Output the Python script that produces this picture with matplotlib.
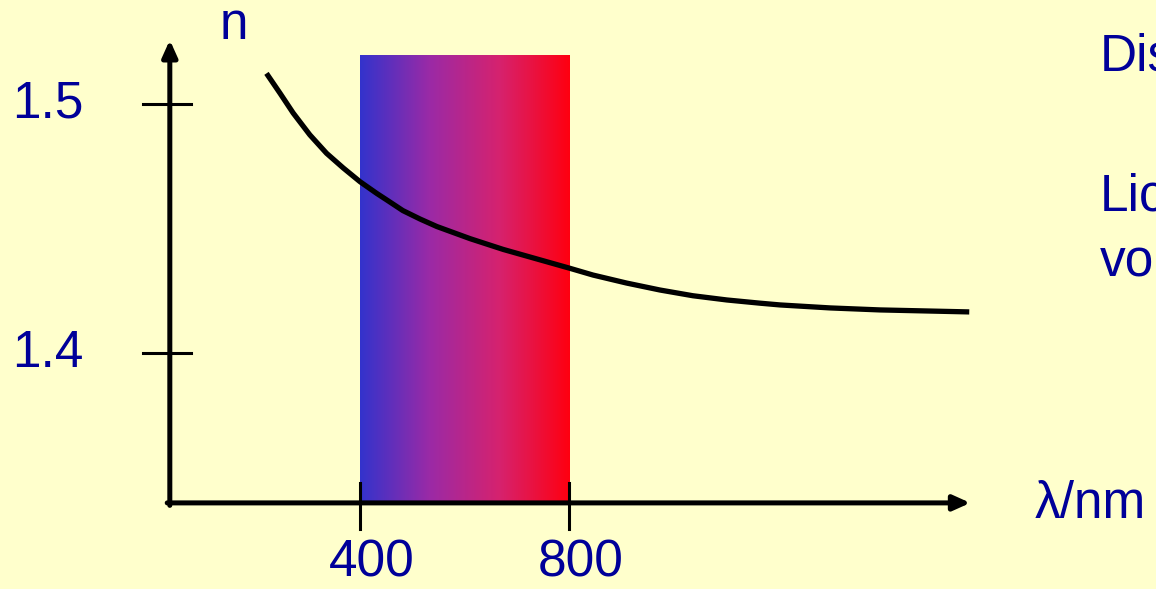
import numpy as np
import matplotlib.pyplot as plt
from matplotlib.colors import LinearSegmentedColormap

# ── Data ──────────────────────────────────────────────────────────────────────
wavelength_nm = [221, 247, 272, 304, 336, 368, 400, 432, 451, 482, 515, 547, 611, 674,
                 738, 802, 846, 910, 974, 1037, 1102, 1166, 1204, 1300, 1395, 1566]
refr_index = [1.5123, 1.5043, 1.4964, 1.4876, 1.4802, 1.4743, 1.4688, 1.4641, 1.4615,
              1.4572, 1.4538, 1.4508, 1.4459, 1.4416, 1.4378, 1.4340, 1.4313, 1.4281,
              1.4253, 1.4230, 1.4213, 1.4200, 1.4193, 1.4181, 1.4173, 1.4165]
x_ticks = [400, 800]
y_ticks = [1.4, 1.5]
visible_band = [400, 800]

# ── Style ─────────────────────────────────────────────────────────────────────
BG = "#FFFFCC"
TXT = "#000099"
FONT = "Liberation Sans"
FS = 37
X0, Y0 = 36, 1.3398          # axis origin
X_END, Y_END = 1568, 1.5257  # arrow tips
BAND_TOP = 1.5197

fig = plt.figure(figsize=(11.56, 5.89), dpi=100, facecolor=BG)
ax = fig.add_axes([0, 0, 1, 1])
ax.set_facecolor(BG)
ax.set_xlim(-289, 1923.4)
ax.set_ylim(1.30522, 1.54177)
ax.axis("off")

# visible spectrum band
cmap = LinearSegmentedColormap.from_list("vis", ["#3333CC", "#9B2AA6", "#D6226E", "#FF0010"])
grad = np.linspace(0, 1, 256).reshape(1, -1)
ax.imshow(grad, cmap=cmap, aspect="auto",
          extent=[visible_band[0], visible_band[1], Y0, BAND_TOP], zorder=1)

# axes with arrows
arrow = dict(arrowstyle="-|>,head_length=1.0,head_width=0.45",
             lw=3.6, color="black", shrinkA=0, shrinkB=0)
ax.annotate("", xy=(X_END, Y0), xytext=(X0 - 5, Y0), arrowprops=arrow, zorder=4)
ax.annotate("", xy=(X0, Y_END), xytext=(X0, Y0 - 0.001), arrowprops=arrow, zorder=4)

# ticks
for xt in x_ticks:
    ax.plot([xt, xt], [Y0 - 0.0105, Y0 + 0.008], color="black", lw=2.2, zorder=4)
    ax.text(xt + 22, 1.3157, f"{xt}", color=TXT, fontsize=FS, family=FONT,
            ha="center", va="center")
for yt in y_ticks:
    ax.plot([X0 - 51, X0 + 41], [yt, yt], color="black", lw=2.2, zorder=4)
    ax.text(-130, yt, f"{yt}", color=TXT, fontsize=FS, family=FONT,
            ha="right", va="center")

# dispersion curve
ax.plot(wavelength_nm, refr_index, color="black", lw=3.8, solid_capstyle="butt",
        solid_joinstyle="round", zorder=3)

# labels (right-hand texts are cut off at the edge, as in the slide)
ax.text(132, 1.5317, "n", color=TXT, fontsize=FS, family=FONT, ha="left", va="center")
ax.text(1692, Y0 - 0.0005, "λ/nm", color=TXT, fontsize=FS, family=FONT, ha="left", va="center")
ax.text(1816, 1.5190, "Dis", color=TXT, fontsize=FS, family=FONT, ha="left", va="center")
ax.text(1816, 1.4625, "Lic", color=TXT, fontsize=FS, family=FONT, ha="left", va="center")
ax.text(1816, 1.4360, "vo", color=TXT, fontsize=FS, family=FONT, ha="left", va="center")

fig.savefig("out.png", dpi=100, facecolor=BG)
